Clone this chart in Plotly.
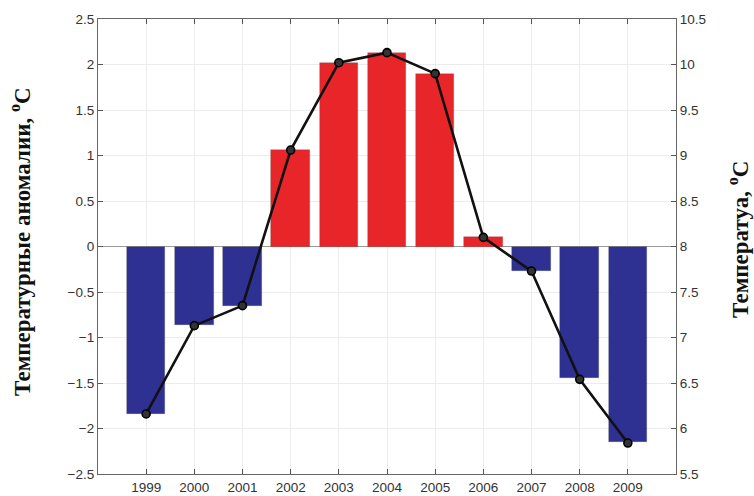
import plotly.graph_objects as go

years = [1999, 2000, 2001, 2002, 2003, 2004, 2005, 2006, 2007, 2008, 2009]
anomaly = [-1.84, -0.86, -0.65, 1.06, 2.02, 2.13, 1.90, 0.10, -0.27, -1.45, -2.15]
temperature = [6.16, 7.13, 7.35, 9.06, 10.02, 10.13, 9.90, 8.10, 7.73, 6.54, 5.84]

left_ticks = [-2.5, -2, -1.5, -1, -0.5, 0, 0.5, 1, 1.5, 2, 2.5]
right_ticks = [5.5, 6, 6.5, 7, 7.5, 8, 8.5, 9, 9.5, 10, 10.5]

RED = "#e8262a"
BLUE = "#2e3192"
bar_colors = [RED if v >= 0 else BLUE for v in anomaly]

fig = go.Figure()
fig.add_trace(go.Bar(
    x=years, y=anomaly, width=0.8,
    marker=dict(color=bar_colors, line=dict(color="rgba(60,60,60,0.4)", width=0.6)),
    yaxis="y", showlegend=False,
))
fig.add_trace(go.Scatter(
    x=years, y=temperature, yaxis="y2", mode="lines+markers",
    line=dict(color="#111111", width=2.6),
    marker=dict(symbol="circle", size=8, color="#333333", line=dict(color="#000000", width=1.6)),
    showlegend=False,
))

tickfont = dict(family="Liberation Sans, Arial, sans-serif", size=13.5, color="#333333")
titlefont = dict(family="Liberation Serif, Times New Roman, serif", size=23, color="#111111")
plot_w = 754 - 98 - 78
plot_h = 474 - 19

fig.update_layout(
    width=754, height=496,
    margin=dict(l=98, r=78, t=19, b=22, autoexpand=False),
    paper_bgcolor="white", plot_bgcolor="white",
    bargap=0,
    xaxis=dict(
        range=[1998, 2010], tickmode="array", tickvals=years,
        ticktext=[str(y) for y in years],
        ticks="inside", ticklen=5, tickcolor="#555555",
        showline=True, linecolor="#666666", linewidth=1.2, mirror="ticks",
        showgrid=True, gridcolor="#ececec", gridwidth=1,
        tickfont=tickfont, zeroline=False, ticklabelstandoff=1, automargin=False,
    ),
    yaxis=dict(
        range=[-2.5, 2.5], tickmode="array", tickvals=left_ticks,
        ticks="inside", ticklen=5, tickcolor="#555555",
        showline=True, linecolor="#666666", linewidth=1.2,
        showgrid=True, gridcolor="#ececec", gridwidth=1,
        zeroline=True, zerolinecolor="#9a9a9a", zerolinewidth=1.2,
        tickfont=tickfont, automargin=False,
    ),
    yaxis2=dict(
        range=[5.5, 10.5], tickmode="array", tickvals=right_ticks,
        overlaying="y", side="right",
        ticks="inside", ticklen=5, tickcolor="#555555",
        showline=True, linecolor="#666666", linewidth=1.2,
        showgrid=False, zeroline=False, tickfont=tickfont, automargin=False,
    ),
    annotations=[
        dict(text="<b>Температурные аномалии, <sup>o</sup>C</b>",
             x=(20 - 98) / plot_w, xref="paper", y=(474 - 242) / plot_h, yref="paper",
             showarrow=False, textangle=-90, xanchor="center", yanchor="middle",
             font=titlefont),
        dict(text="<b>Температуа, <sup>o</sup>C</b>",
             x=(738 - 98) / plot_w, xref="paper", y=(474 - 240) / plot_h, yref="paper",
             showarrow=False, textangle=-90, xanchor="center", yanchor="middle",
             font=titlefont),
    ],
)

fig.write_html("out.html")
